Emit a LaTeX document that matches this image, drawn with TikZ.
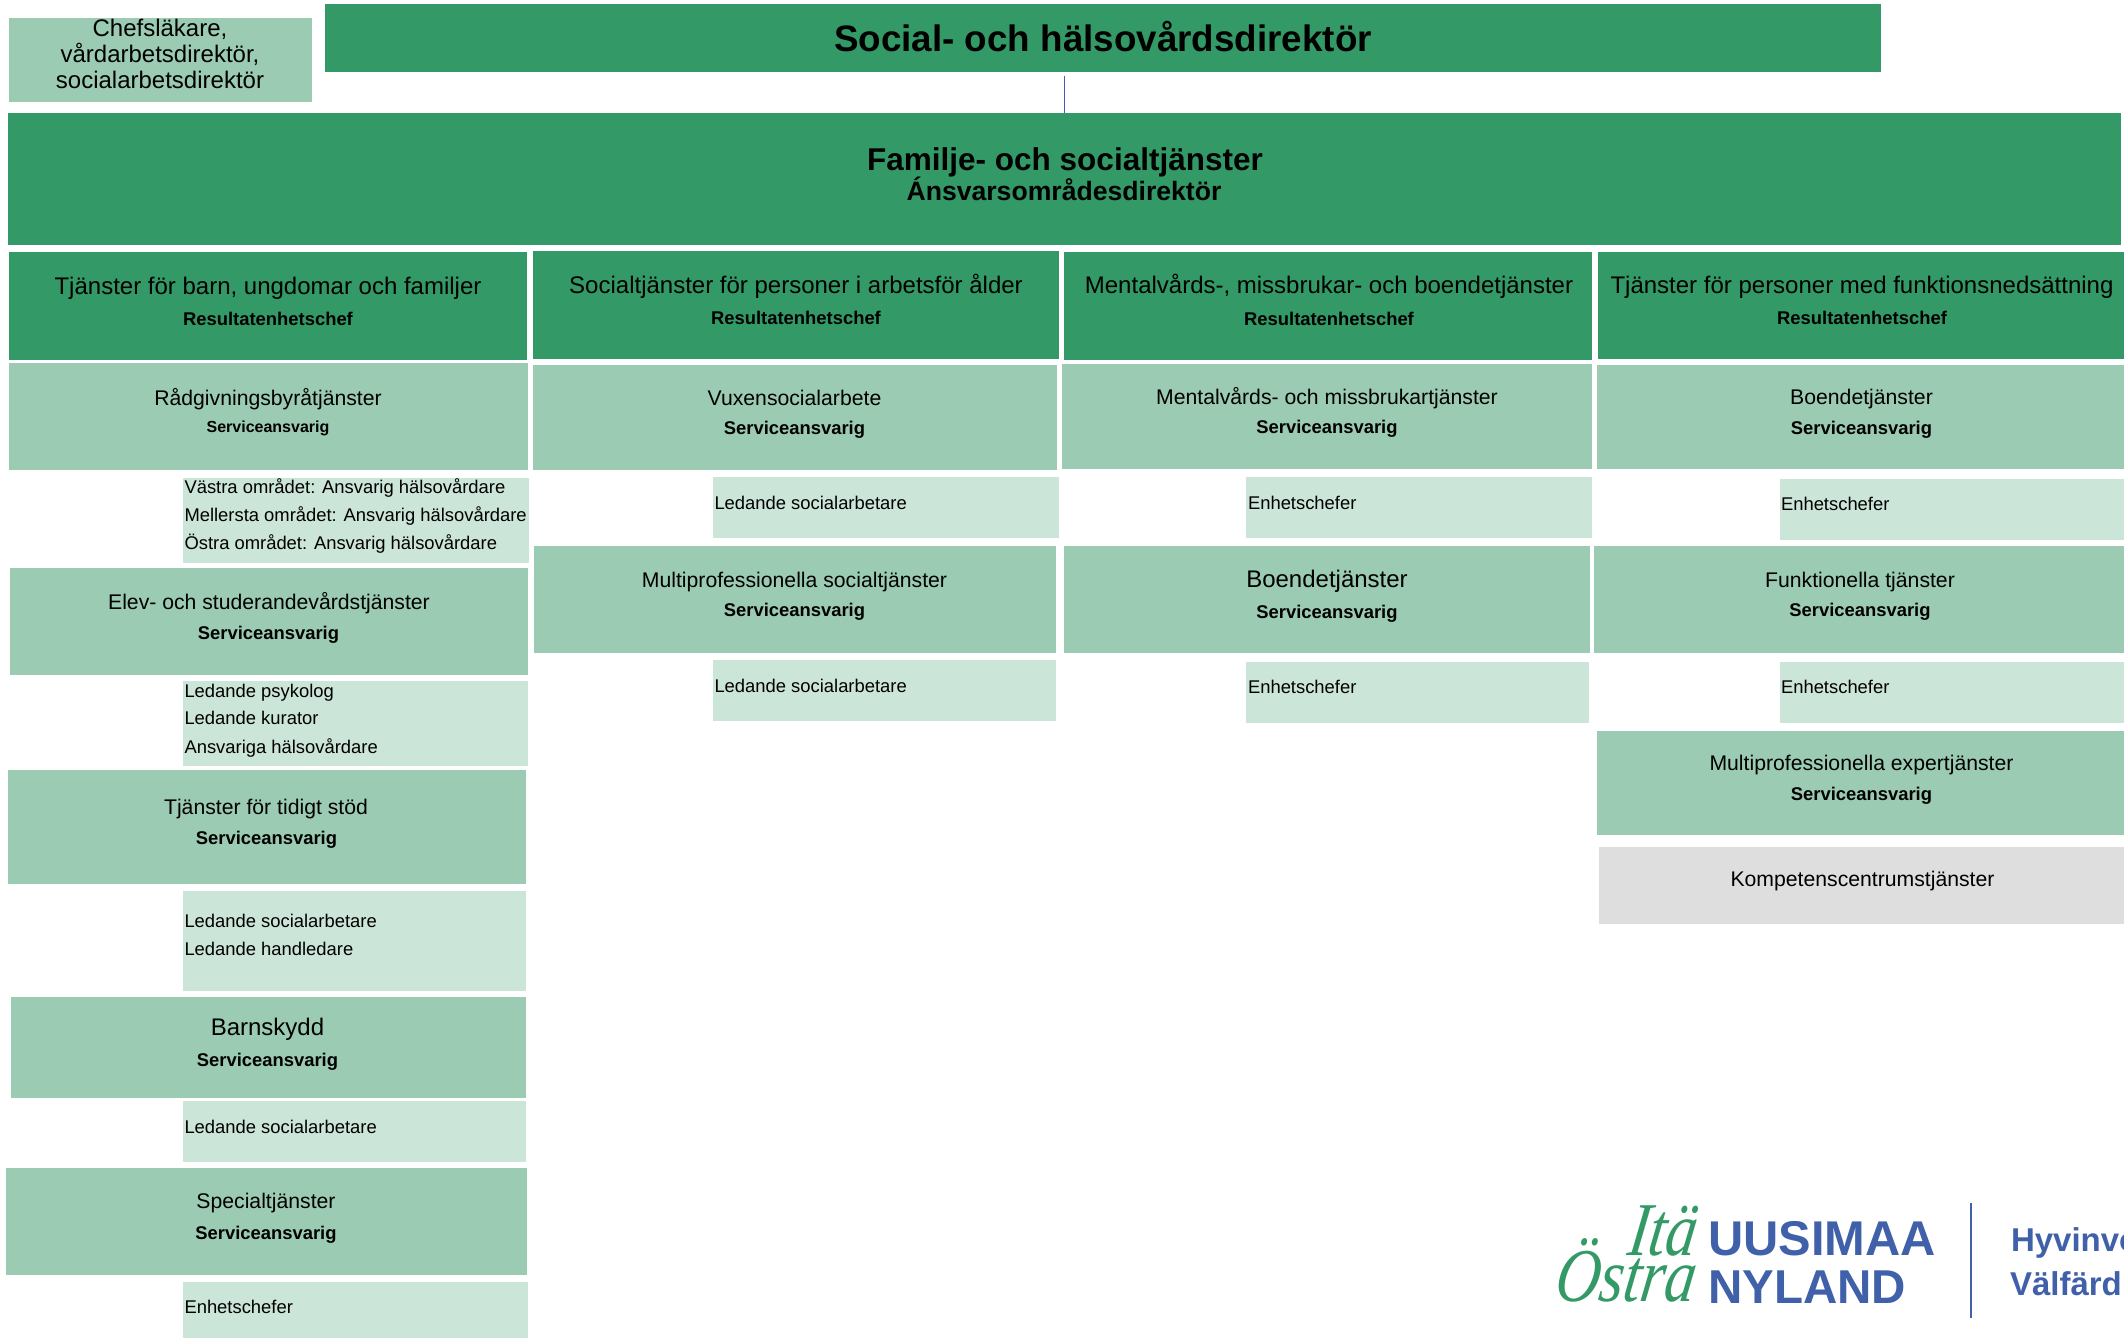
\documentclass[tikz,border=0pt]{standalone}
\usepackage{fontspec}
\setmainfont{Liberation Sans}
\newfontfamily\logofont[FakeStretch=0.81,ItalicFeatures={FakeSlant=0.15}]{Liberation Serif}
\usetikzlibrary{fit}
\definecolor{darkgreen}{HTML}{339966}
\definecolor{midgreen}{HTML}{9CCBB3}
\definecolor{lightgreen}{HTML}{CCE5D9}
\definecolor{greybox}{HTML}{DEDEDE}
\definecolor{logoblue}{HTML}{4061A9}
\tikzset{
    box/.style={inner sep=0pt,outer sep=0pt},
    darkbox/.style={box,fill=darkgreen},
    midbox/.style={box,fill=midgreen},
    lightbox/.style={box,fill=lightgreen},
    txt/.style={inner sep=0pt,outer sep=0pt,anchor=base},
    headtxt/.style={txt,font=\fontsize{24}{29}\selectfont},
    midtxt/.style={txt,font=\fontsize{21.2}{26}\selectfont},
    subtxt/.style={txt,font=\fontsize{18.4}{22}\selectfont\bfseries},
    leaftxt/.style={txt,anchor=base west,font=\fontsize{18.4}{22}\selectfont},
    logotxt/.style={txt,anchor=base west,text=logoblue,font=\fontsize{48}{54}\selectfont\bfseries},
    regiontxt/.style={txt,anchor=base west,text=logoblue,font=\fontsize{33}{38}\selectfont\bfseries},
    swashtxt/.style={txt,anchor=base west,text=darkgreen,font=\fontsize{76}{80}\logofont\itshape}
}
\begin{document}
\begin{tikzpicture}[x=1pt,y=-1pt]
        \useasboundingbox (0,0) rectangle (2124,1338);
        \node [midbox,fit={(9,18) (312,102)}] (chefbox) {};
        \node [darkbox,fit={(325,4) (1881,72)}] (socialdir) {};
        \node [darkbox,fit={(8,113) (2121,245)}] (familydir) {};
        \coordinate (linetop) at (1064.5,76);
        \draw [draw=logoblue,line width=1.2pt] (linetop) -- (familydir.north);
        \node [darkbox,fit={(9,252) (527,360)}] (barnhead) {};
        \node [darkbox,fit={(533,251) (1059,359)}] (arbetshead) {};
        \node [darkbox,fit={(1064,252) (1592,360)}] (mentalhead) {};
        \node [darkbox,fit={(1598,252) (2124,359)}] (funkhead) {};
        \node [midbox,fit={(9,363) (528,470)}] (radbox) {};
        \node [lightbox,fit={(183,478) (529,563)}] (radleaf) {};
        \node [midbox,fit={(10,568) (528,675)}] (elevbox) {};
        \node [lightbox,fit={(183,681) (528,766)}] (elevleaf) {};
        \node [midbox,fit={(8,770) (526,884)}] (tidigtbox) {};
        \node [lightbox,fit={(183,891) (526,991)}] (tidigtleaf) {};
        \node [midbox,fit={(11,997) (526,1098)}] (skyddbox) {};
        \node [lightbox,fit={(183,1101) (526,1162)}] (skyddleaf) {};
        \node [midbox,fit={(6,1168) (527,1275)}] (specbox) {};
        \node [lightbox,fit={(183,1282) (528,1338)}] (specleaf) {};
        \node [midbox,fit={(533,365) (1057,470)}] (vuxenbox) {};
        \node [lightbox,fit={(713,477) (1059,538)}] (vuxenleaf) {};
        \node [midbox,fit={(534,546) (1056,653)}] (multibox) {};
        \node [lightbox,fit={(713,660) (1056,721)}] (multileaf) {};
        \node [midbox,fit={(1062,364) (1592,469)}] (mentalbox) {};
        \node [lightbox,fit={(1246,477) (1592,538)}] (mentalleaf) {};
        \node [midbox,fit={(1064,546) (1590,653)}] (boendebox) {};
        \node [lightbox,fit={(1246,662) (1589,723)}] (boendeleaf) {};
        \node [midbox,fit={(1597,365) (2124,469)}] (fboendebox) {};
        \node [lightbox,fit={(1780,479) (2124,540)}] (fboendeleaf) {};
        \node [midbox,fit={(1594,546) (2124,653)}] (funkbox) {};
        \node [lightbox,fit={(1780,662) (2124,723)}] (funkleaf) {};
        \node [midbox,fit={(1597,731) (2124,835)}] (expertbox) {};
        \node [box,fill=greybox,fit={(1599,847) (2124,924)}] (kompbox) {};
        \node [txt,align=center,anchor=center,font=\fontsize{24}{26}\selectfont] (cheftxt) at (160,54) {Chefsläkare,\\vårdarbetsdirektör,\\socialarbetsdirektör};
        \node [txt,font=\fontsize{36.8}{40}\selectfont\bfseries] (socialtxt) at (1103,52) {Social- och hälsovårdsdirektör};
        \node [txt,font=\fontsize{31.5}{36}\selectfont\bfseries] (familytxt) at (1065,170) {Familje- och socialtjänster};
        \node [txt,font=\fontsize{26.6}{30}\selectfont\bfseries] (ansvartxt) at (1064,200) {Ánsvarsområdesdirektör};
        \node [headtxt] (barntxt) at (268,294) {Tjänster för barn, ungdomar och familjer};
        \node [subtxt] (barnsub) at (268,325) {Resultatenhetschef};
        \node [headtxt] (arbetstxt) at (796,293) {Socialtjänster för personer i arbetsför ålder};
        \node [subtxt] (arbetssub) at (796,324) {Resultatenhetschef};
        \node [headtxt] (mentaltxt) at (1329,293) {Mentalvårds-, missbrukar- och boendetjänster};
        \node [subtxt] (mentalsub) at (1329,325) {Resultatenhetschef};
        \node [headtxt] (funktxt) at (1862,293) {Tjänster för personer med funktionsnedsättning};
        \node [subtxt] (funksub) at (1862,324) {Resultatenhetschef};
        \node [midtxt] (radtxt) at (268,405) {Rådgivningsbyråtjänster};
        \node [txt,font=\fontsize{16}{20}\selectfont\bfseries] (radsub) at (268,432) {Serviceansvarig};
        \node [leaftxt] (radone) at (184.5,493) {Västra området: Ansvarig hälsovårdare};
        \node [leaftxt] (radtwo) at (184.5,521) {Mellersta området: Ansvarig hälsovårdare};
        \node [leaftxt] (radthree) at (184.5,549) {Östra området: Ansvarig hälsovårdare};
        \node [midtxt] (elevtxt) at (269,609) {Elev- och studerandevårdstjänster};
        \node [subtxt] (elevsub) at (268.5,639) {Serviceansvarig};
        \node [leaftxt] (elevone) at (184.5,697) {Ledande psykolog};
        \node [leaftxt] (elevtwo) at (184.5,724) {Ledande kurator};
        \node [leaftxt] (elevthree) at (184.5,753) {Ansvariga hälsovårdare};
        \node [midtxt] (tidigttxt) at (266,814) {Tjänster för tidigt stöd};
        \node [subtxt] (tidigtsub) at (266.5,844) {Serviceansvarig};
        \node [leaftxt] (tidigtone) at (184.5,927) {Ledande socialarbetare};
        \node [leaftxt] (tidigttwo) at (184.5,955) {Ledande handledare};
        \node [headtxt] (skyddtxt) at (267.5,1035) {Barnskydd};
        \node [subtxt] (skyddsub) at (267.5,1066) {Serviceansvarig};
        \node [leaftxt] (skyddone) at (184.5,1133) {Ledande socialarbetare};
        \node [midtxt] (spectxt) at (266,1208) {Specialtjänster};
        \node [subtxt] (specsub) at (266,1239) {Serviceansvarig};
        \node [leaftxt] (specone) at (184.5,1313) {Enhetschefer};
        \node [midtxt] (vuxentxt) at (794.5,405) {Vuxensocialarbete};
        \node [subtxt] (vuxensub) at (794.5,434) {Serviceansvarig};
        \node [leaftxt] (vuxenone) at (714.5,509) {Ledande socialarbetare};
        \node [midtxt] (multitxt) at (794.5,587) {Multiprofessionella socialtjänster};
        \node [subtxt] (multisub) at (794.5,616) {Serviceansvarig};
        \node [leaftxt] (multione) at (714.5,692) {Ledande socialarbetare};
        \node [midtxt] (mentalsvc) at (1327,404) {Mentalvårds- och missbrukartjänster};
        \node [subtxt] (mentalans) at (1327,433) {Serviceansvarig};
        \node [leaftxt] (mentalone) at (1248,509) {Enhetschefer};
        \node [headtxt] (boendetxt) at (1327,587) {Boendetjänster};
        \node [subtxt] (boendesub) at (1327,618) {Serviceansvarig};
        \node [leaftxt] (boendeone) at (1248,693) {Enhetschefer};
        \node [midtxt] (fboendetxt) at (1861.5,404) {Boendetjänster};
        \node [subtxt] (fboendesub) at (1861.5,434) {Serviceansvarig};
        \node [leaftxt] (fboendeone) at (1781,510) {Enhetschefer};
        \node [midtxt] (funksvc) at (1860,587) {Funktionella tjänster};
        \node [subtxt] (funkans) at (1860,616) {Serviceansvarig};
        \node [leaftxt] (funkone) at (1781,693) {Enhetschefer};
        \node [midtxt] (experttxt) at (1861.5,770) {Multiprofessionella expertjänster};
        \node [subtxt] (expertsub) at (1861.5,800) {Serviceansvarig};
        \node [midtxt] (komptxt) at (1862.5,886) {Kompetenscentrumstjänster};
        \node [swashtxt] (itatxt) at (1626,1255) {Itä};
        \node [swashtxt] (ostratxt) at (1553,1301) {Östra};
        \node [logotxt,font=\fontsize{48.8}{54}\selectfont\bfseries] (uusimaatxt) at (1708,1255) {UUSIMAA};
        \node [logotxt,font=\fontsize{47.5}{54}\selectfont\bfseries] (nylandtxt) at (1708,1303) {NYLAND};
        \coordinate (dividertop) at (1971,1203);
        \coordinate (dividerbot) at (1971,1318);
        \draw [draw=logoblue,line width=2pt] (dividertop) -- (dividerbot);
        \node [regiontxt] (hyvintxt) at (2011,1251) {Hyvinvo};
        \node [regiontxt] (valfardtxt) at (2010,1295) {Välfärd};
    \end{tikzpicture}
\end{document}
